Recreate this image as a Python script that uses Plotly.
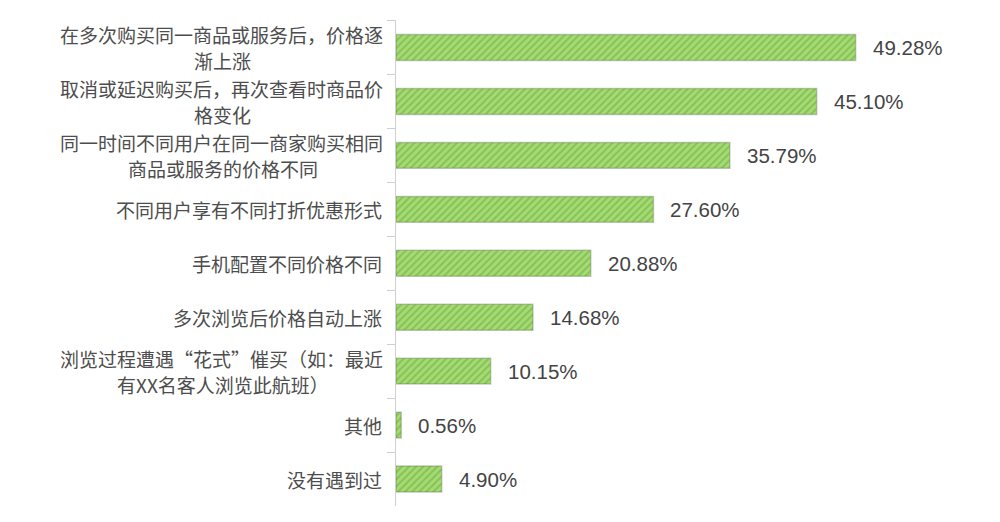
import plotly.graph_objects as go

# survey answers, top to bottom
categories = [
    "在多次购买同一商品或服务后，价格逐<br>渐上涨",
    "取消或延迟购买后，再次查看时商品价<br>格变化",
    "同一时间不同用户在同一商家购买相同<br>商品或服务的价格不同",
    "不同用户享有不同打折优惠形式",
    "手机配置不同价格不同",
    "多次浏览后价格自动上涨",
    "浏览过程遭遇“花式”催买（如：最近<br>有XX名客人浏览此航班）",
    "其他",
    "没有遇到过",
]
percents = [49.28, 45.10, 35.79, 27.60, 20.88, 14.68, 10.15, 0.56, 4.90]

font_family = "Noto Sans CJK SC"
font_size = 19
text_grey = "#4d4d4d"
line_gap = 26    # px between wrapped label lines
label_pad = 12   # px between label and axis

fig = go.Figure()
fig.add_trace(go.Bar(
    x=percents,
    y=categories,
    orientation="h",
    width=0.48,
    marker=dict(
        color="#a6da72",
        line=dict(color="rgba(90,110,80,0.35)", width=1.5),
        pattern=dict(shape="/", bgcolor="#a6da72", fgcolor="#62a93c",
                     size=5, solidity=0.4, fillmode="overlay"),
    ),
    hoverinfo="skip",
))

annotations = []
for cat, val in zip(categories, percents):
    lines = cat.split("<br>")
    if len(lines) == 1:
        annotations.append(dict(
            x=0, xref="paper", y=cat, yref="y", text=cat,
            xanchor="right", xshift=-label_pad, showarrow=False,
            font=dict(family=font_family, size=font_size, color=text_grey),
        ))
    else:
        # first line flush to the axis, second line centred under it
        first_w = len(lines[0]) * font_size
        for i, line in enumerate(lines):
            annotations.append(dict(
                x=0, xref="paper", y=cat, yref="y", text=line,
                xanchor="right" if i == 0 else "center",
                xshift=-label_pad if i == 0 else -label_pad - first_w / 2,
                yshift=((len(lines) - 1) / 2 - i) * line_gap,
                showarrow=False, borderpad=0,
                font=dict(family=font_family, size=font_size, color=text_grey),
            ))
    # value label after the bar
    annotations.append(dict(
        x=val, xref="x", y=cat, yref="y", text="{:.2f}%".format(val),
        xanchor="left", xshift=15, showarrow=False,
        font=dict(family="Liberation Sans", size=20.5, color="#444444"),
    ))

# page body adds an 8px offset, margins compensate for it
fig.update_layout(
    width=1000, height=522,
    margin=dict(l=388, r=99, t=12, b=24),
    plot_bgcolor="white", paper_bgcolor="white",
    showlegend=False,
    annotations=annotations,
    xaxis=dict(range=[0, 55], visible=False, showgrid=False, zeroline=False,
               automargin=False),
    yaxis=dict(
        categoryorder="array", categoryarray=categories, autorange="reversed",
        showticklabels=False, showline=True, linecolor="#d0d0d0", linewidth=1,
        ticks="outside", tickson="boundaries", ticklen=8, tickcolor="#d0d0d0",
        showgrid=False, zeroline=False, automargin=False,
    ),
)

fig.write_html("out.html")
